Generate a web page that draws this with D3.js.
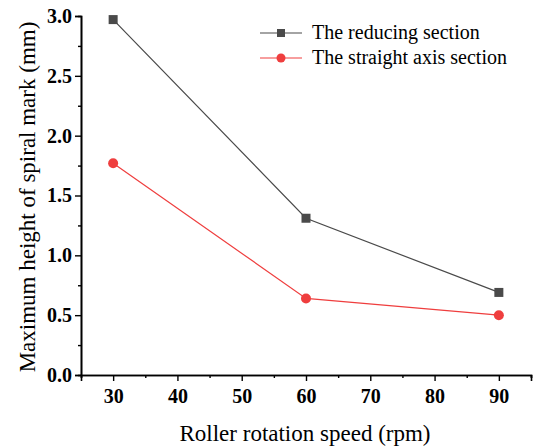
<!DOCTYPE html>
<html><head><meta charset="utf-8">
<script src="https://cdn.jsdelivr.net/npm/d3@7"></script>
<style>body{margin:0;background:#fff}svg{display:block}</style>
</head><body><svg id="c" width="533" height="448"></svg>
<script>
const speeds = [30, 60, 90];
const reducing = [2.97, 1.31, 0.69];
const straight = [1.77, 0.64, 0.50];
const seriesNames = ["The reducing section", "The straight axis section"];
const xTicks = [30, 40, 50, 60, 70, 80, 90];
const yTicks = [0.0, 0.5, 1.0, 1.5, 2.0, 2.5, 3.0];

const svg = d3.select("#c");
const font = "Liberation Serif";
const x = d3.scaleLinear().domain([25, 95]).range([81, 531]);
const y = d3.scaleLinear().domain([0, 3]).range([375, 16]);

const xMinor = d3.range(25, 96, 5).filter(v => v % 10 !== 0);
const yMinor = d3.range(0.25, 3, 0.5);

const gx = svg.append("g").attr("transform", "translate(0,375)");
gx.call(d3.axisBottom(x).tickValues(xMinor).tickSize(3).tickFormat(""));
gx.append("g").call(d3.axisBottom(x).tickValues(xTicks).tickSize(6).tickPadding(8).tickFormat(d3.format("d")));
gx.selectAll("path").attr("stroke", "#000").attr("stroke-width", 1.6);
gx.selectAll("line").attr("stroke", "#000").attr("stroke-width", 1.4);
gx.selectAll("text").attr("font-family", font).attr("font-weight", "bold").attr("font-size", 20).attr("fill", "#000");

const gy = svg.append("g").attr("transform", "translate(81,0)");
gy.call(d3.axisLeft(y).tickValues(yMinor).tickSize(3).tickFormat(""));
gy.append("g").call(d3.axisLeft(y).tickValues(yTicks).tickSize(6).tickPadding(3).tickFormat(d3.format(".1f")));
gy.selectAll("path").attr("stroke", "#000").attr("stroke-width", 1.6);
gy.selectAll("line").attr("stroke", "#000").attr("stroke-width", 1.4);
gy.selectAll("text").attr("font-family", font).attr("font-weight", "bold").attr("font-size", 20).attr("fill", "#000");

svg.append("text").attr("x", 305).attr("y", 441).attr("text-anchor", "middle")
  .attr("font-family", font).attr("font-size", 23).text("Roller rotation speed (rpm)");
svg.append("text").attr("transform", "translate(35,197) rotate(-90)").attr("text-anchor", "middle")
  .attr("font-family", font).attr("font-size", 23).text("Maximum height of spiral mark (mm)");

const colors = ["#4a4a4a", "#ef3e3e"];
const data = [reducing, straight];
const line = d3.line().x((d, i) => x(speeds[i])).y(d => y(d));

data.forEach((vals, k) => {
  svg.append("path").attr("d", line(vals)).attr("fill", "none")
    .attr("stroke", colors[k]).attr("stroke-width", 1.2);
  vals.forEach((v, i) => {
    if (k === 0) {
      svg.append("rect").attr("x", x(speeds[i]) - 4.5).attr("y", y(v) - 4.5)
        .attr("width", 9).attr("height", 9).attr("fill", colors[k]);
    } else {
      svg.append("circle").attr("cx", x(speeds[i])).attr("cy", y(v)).attr("r", 5)
        .attr("fill", colors[k]);
    }
  });
});

seriesNames.forEach((name, k) => {
  const ly = 33 + k * 25;
  svg.append("line").attr("x1", 260).attr("x2", 302).attr("y1", ly).attr("y2", ly)
    .attr("stroke", colors[k]).attr("stroke-width", 1.2);
  if (k === 0) {
    svg.append("rect").attr("x", 281 - 4).attr("y", ly - 4).attr("width", 8).attr("height", 8).attr("fill", colors[k]);
  } else {
    svg.append("circle").attr("cx", 281).attr("cy", ly).attr("r", 4.5).attr("fill", colors[k]);
  }
  svg.append("text").attr("x", 312).attr("y", ly + 6).attr("font-family", font)
    .attr("font-size", 20).text(name);
});
</script></body></html>
